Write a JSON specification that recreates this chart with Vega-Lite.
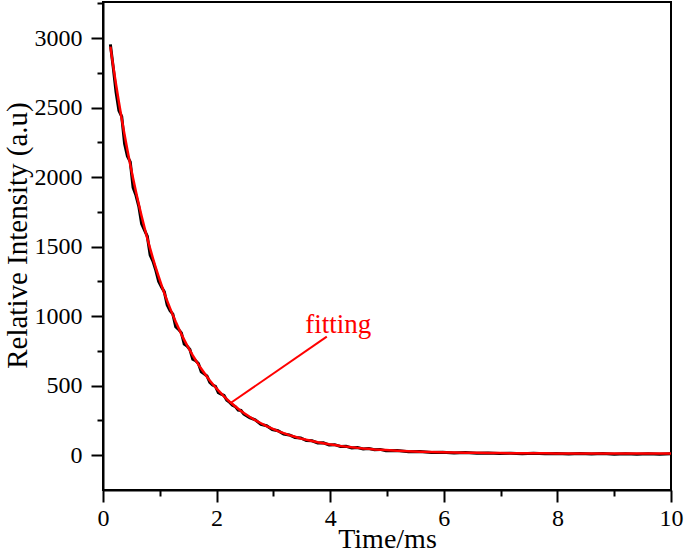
{
  "$schema": "https://vega.github.io/schema/vega-lite/v6.json",
  "width": 568,
  "height": 488,
  "autosize": "none",
  "padding": {"left": 103, "top": 2, "right": 14, "bottom": 62},
  "background": "white",
  "config": {
    "view": {"stroke": "black", "strokeWidth": 2},
    "font": "Liberation Serif",
    "axis": {
      "domainColor": "black",
      "domainWidth": 2,
      "tickColor": "black",
      "tickWidth": 2,
      "grid": false,
      "labelFont": "Liberation Serif",
      "labelFontSize": 24,
      "labelColor": "black",
      "labelOverlap": false,
      "titleFont": "Liberation Serif",
      "titleFontWeight": "normal",
      "titleColor": "black"
    }
  },
  "resolve": {"axis": {"y": "independent"}},
  "datasets": {
    "decay": [
      {"t": 0.13, "signal": 2955, "fit": 2939},
      {"t": 0.18, "signal": 2790, "fit": 2799},
      {"t": 0.23, "signal": 2610, "fit": 2666},
      {"t": 0.28, "signal": 2480, "fit": 2539},
      {"t": 0.33, "signal": 2435, "fit": 2418},
      {"t": 0.38, "signal": 2240, "fit": 2303},
      {"t": 0.43, "signal": 2150, "fit": 2193},
      {"t": 0.48, "signal": 2110, "fit": 2089},
      {"t": 0.53, "signal": 1925, "fit": 1990},
      {"t": 0.58, "signal": 1870, "fit": 1895},
      {"t": 0.63, "signal": 1790, "fit": 1805},
      {"t": 0.68, "signal": 1665, "fit": 1719},
      {"t": 0.73, "signal": 1620, "fit": 1638},
      {"t": 0.78, "signal": 1575, "fit": 1560},
      {"t": 0.83, "signal": 1440, "fit": 1486},
      {"t": 0.88, "signal": 1395, "fit": 1415},
      {"t": 0.93, "signal": 1330, "fit": 1348},
      {"t": 0.98, "signal": 1250, "fit": 1284},
      {"t": 1.03, "signal": 1210, "fit": 1223},
      {"t": 1.08, "signal": 1175, "fit": 1165},
      {"t": 1.13, "signal": 1080, "fit": 1110},
      {"t": 1.18, "signal": 1040, "fit": 1058},
      {"t": 1.23, "signal": 1015, "fit": 1008},
      {"t": 1.28, "signal": 925, "fit": 960},
      {"t": 1.33, "signal": 905, "fit": 915},
      {"t": 1.38, "signal": 880, "fit": 871},
      {"t": 1.43, "signal": 800, "fit": 830},
      {"t": 1.48, "signal": 785, "fit": 791},
      {"t": 1.53, "signal": 760, "fit": 754},
      {"t": 1.58, "signal": 690, "fit": 718},
      {"t": 1.63, "signal": 680, "fit": 685},
      {"t": 1.68, "signal": 660, "fit": 652},
      {"t": 1.73, "signal": 600, "fit": 622},
      {"t": 1.78, "signal": 585, "fit": 593},
      {"t": 1.83, "signal": 570, "fit": 565},
      {"t": 1.88, "signal": 525, "fit": 538},
      {"t": 1.93, "signal": 505, "fit": 513},
      {"t": 1.98, "signal": 495, "fit": 489},
      {"t": 2.03, "signal": 450, "fit": 466},
      {"t": 2.08, "signal": 440, "fit": 445},
      {"t": 2.13, "signal": 430, "fit": 424},
      {"t": 2.18, "signal": 395, "fit": 404},
      {"t": 2.23, "signal": 380, "fit": 385},
      {"t": 2.28, "signal": 360, "fit": 368},
      {"t": 2.33, "signal": 350, "fit": 351},
      {"t": 2.38, "signal": 325, "fit": 334},
      {"t": 2.43, "signal": 322, "fit": 319},
      {"t": 2.48, "signal": 295, "fit": 304},
      {"t": 2.58, "signal": 270, "fit": 277},
      {"t": 2.68, "signal": 255, "fit": 252},
      {"t": 2.78, "signal": 222, "fit": 230},
      {"t": 2.88, "signal": 212, "fit": 209},
      {"t": 2.98, "signal": 185, "fit": 191},
      {"t": 3.08, "signal": 176, "fit": 174},
      {"t": 3.18, "signal": 152, "fit": 159},
      {"t": 3.28, "signal": 146, "fit": 145},
      {"t": 3.38, "signal": 128, "fit": 133},
      {"t": 3.48, "signal": 124, "fit": 121},
      {"t": 3.58, "signal": 106, "fit": 111},
      {"t": 3.68, "signal": 104, "fit": 102},
      {"t": 3.78, "signal": 88, "fit": 93},
      {"t": 3.88, "signal": 89, "fit": 86},
      {"t": 3.98, "signal": 74, "fit": 79},
      {"t": 4.08, "signal": 76, "fit": 73},
      {"t": 4.18, "signal": 63, "fit": 67},
      {"t": 4.28, "signal": 64, "fit": 62},
      {"t": 4.38, "signal": 53, "fit": 57},
      {"t": 4.48, "signal": 55, "fit": 53},
      {"t": 4.58, "signal": 45, "fit": 49},
      {"t": 4.68, "signal": 48, "fit": 46},
      {"t": 4.78, "signal": 39, "fit": 42},
      {"t": 4.88, "signal": 42, "fit": 40},
      {"t": 4.98, "signal": 33, "fit": 37},
      {"t": 5.18, "signal": 34, "fit": 32.5},
      {"t": 5.38, "signal": 25, "fit": 28.9},
      {"t": 5.58, "signal": 27, "fit": 25.9},
      {"t": 5.78, "signal": 20, "fit": 23.4},
      {"t": 5.98, "signal": 22, "fit": 21.4},
      {"t": 6.18, "signal": 16, "fit": 19.7},
      {"t": 6.38, "signal": 19, "fit": 18.3},
      {"t": 6.58, "signal": 14, "fit": 17.2},
      {"t": 6.78, "signal": 17, "fit": 16.3},
      {"t": 6.98, "signal": 12, "fit": 15.5},
      {"t": 7.18, "signal": 15, "fit": 14.9},
      {"t": 7.38, "signal": 11, "fit": 14.4},
      {"t": 7.58, "signal": 14, "fit": 13.9},
      {"t": 7.78, "signal": 10, "fit": 13.6},
      {"t": 7.98, "signal": 13, "fit": 13.3},
      {"t": 8.2, "signal": 9, "fit": 13.0},
      {"t": 8.4, "signal": 12, "fit": 12.8},
      {"t": 8.6, "signal": 9, "fit": 12.6},
      {"t": 8.8, "signal": 12, "fit": 12.5},
      {"t": 9.0, "signal": 8, "fit": 12.4},
      {"t": 9.2, "signal": 11, "fit": 12.3},
      {"t": 9.4, "signal": 8, "fit": 12.2},
      {"t": 9.6, "signal": 11, "fit": 12.2},
      {"t": 9.8, "signal": 8, "fit": 12.1},
      {"t": 10.0, "signal": 10, "fit": 12.1}
    ],
    "pointer": [{"t": 2.24, "v": 374, "t2": 3.94, "v2": 853}],
    "label": [{"t": 4.14, "v": 937, "text": "fitting"}]
  },
  "layer": [
    {
      "data": {"name": "decay"},
      "mark": {"type": "line", "color": "black", "strokeWidth": 3, "clip": true},
      "encoding": {
        "x": {
          "field": "t",
          "type": "quantitative",
          "scale": {"domain": [0, 10], "nice": false, "zero": false},
          "axis": {
            "title": "Time/ms",
            "titleFontSize": 28,
            "titlePadding": -5,
            "format": "d",
            "values": [0, 1, 2, 3, 4, 5, 6, 7, 8, 9, 10],
            "labelExpr": "datum.value % 2 === 0 ? datum.label : ''",
            "tickSize": {"condition": {"test": "datum.value % 2 === 0", "value": 12}, "value": 6},
            "labelPadding": 4,
            "labelFlush": false
          }
        },
        "y": {
          "field": "signal",
          "type": "quantitative",
          "scale": {"domain": [-250, 3260], "nice": false, "zero": false},
          "axis": {
            "orient": "left",
            "title": "Relative Intensity (a.u)",
            "titleFontSize": 29,
            "titlePadding": 2,
            "titleY": 233,
            "format": "d",
            "values": [0, 500, 1000, 1500, 2000, 2500, 3000],
            "tickSize": 12,
            "labelPadding": 9,
            "labelFlush": false
          }
        }
      }
    },
    {
      "data": {"name": "decay"},
      "mark": {"type": "line", "color": "#ff0000", "strokeWidth": 2.5, "clip": true},
      "encoding": {
        "x": {"field": "t", "type": "quantitative"},
        "y": {
          "field": "fit",
          "type": "quantitative",
          "axis": {
            "orient": "left",
            "title": null,
            "labels": false,
            "domain": false,
            "values": [250, 750, 1250, 1750, 2250, 2750, 3250],
            "tickSize": 6
          }
        }
      }
    },
    {
      "data": {"name": "pointer"},
      "mark": {"type": "rule", "color": "#ff0000", "strokeWidth": 2},
      "encoding": {
        "x": {"field": "t", "type": "quantitative"},
        "y": {"field": "v", "type": "quantitative", "axis": null},
        "x2": {"field": "t2"},
        "y2": {"field": "v2"}
      }
    },
    {
      "data": {"name": "label"},
      "mark": {"type": "text", "color": "#ff0000", "font": "Liberation Serif", "fontSize": 27, "align": "center", "baseline": "middle"},
      "encoding": {
        "x": {"field": "t", "type": "quantitative"},
        "y": {"field": "v", "type": "quantitative", "axis": null},
        "text": {"field": "text"}
      }
    }
  ]
}
